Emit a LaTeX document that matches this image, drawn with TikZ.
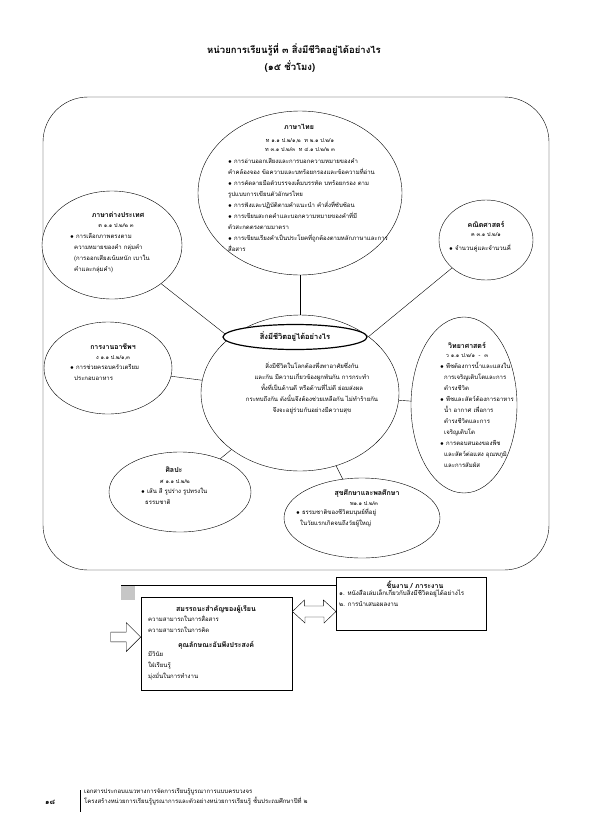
\documentclass[tikz,border=0pt]{standalone}
\usepackage{fontspec}
\newfontfamily\thai[Script=Thai]{Loma}
\usetikzlibrary{shapes.geometric,shapes.arrows,positioning}
\tikzset{
  bubble/.style={draw, ellipse, fill=white, inner sep=0pt},
  subjhead/.style={font=\thai\bfseries\fontsize{7}{9}\selectfont},
  subjcode/.style={font=\thai\fontsize{5.5}{9}\selectfont},
  subjtext/.style={font=\thai\fontsize{6}{11}\selectfont, align=left, inner sep=0pt, anchor=north west},
  infobox/.style={draw, fill=white, inner sep=0pt},
}
\newcommand{\bul}{$\bullet$\ }
\begin{document}
\begin{tikzpicture}[x=1pt, y=-1pt]
  \useasboundingbox (0,0) rectangle (595,836);
  % title
  \node[font=\thai\bfseries\fontsize{9.5}{11}\selectfont] (title) at (294,50) {หน่วยการเรียนรู้ที่ ๓ สิ่งมีชีวิตอยู่ได้อย่างไร};
  \node[font=\thai\bfseries\fontsize{9.5}{11}\selectfont] (hours) at (290,67) {(๑๕ ชั่วโมง)};

  % frame
  \draw[rounded corners=45pt] (43,97) rectangle (549,570);

  % bubbles
  \node[bubble, minimum width=204, minimum height=164] (thai) at (300,193) {};
  \node[bubble, minimum width=140, minimum height=108] (foreign) at (112,245) {};
  \node[bubble, minimum width=94, minimum height=80] (math) at (486,240) {};
  \node[bubble, minimum width=128, minimum height=92] (career) at (108,368) {};
  \node[bubble, minimum width=198, minimum height=156] (core) at (300,393) {};
  \node[bubble, minimum width=106, minimum height=176] (sci) at (464,405) {};
  \node[bubble, minimum width=142, minimum height=80] (art) at (180,492) {};
  \node[bubble, minimum width=156, minimum height=80] (health) at (362,518) {};

  % connectors
  \foreach \s in {thai, foreign, math, career, sci, art, health}
    \draw (core) -- (\s);

  % core
  \node[draw, ellipse, very thick, fill=white, minimum width=144, minimum height=25, font=\thai\bfseries\fontsize{7.5}{9}\selectfont] (corehead) at (295,337) {สิ่งมีชีวิตอยู่ได้อย่างไร};
  \node[subjtext, align=center, anchor=north] (coretext) at (312,362) {สิ่งมีชีวิตในโลกต้องพึ่งพาอาศัยซึ่งกัน\\และกัน มีความเกี่ยวข้องผูกพันกัน การกระทำ\\ทั้งที่เป็นด้านดี หรือด้านที่ไม่ดี ย่อมส่งผล\\กระทบถึงกัน ดังนั้นจึงต้องช่วยเหลือกัน ไม่ทำร้ายกัน\\จึงจะอยู่ร่วมกันอย่างมีความสุข};

  % Thai
  \node[subjhead] (thaihead) at (299,127) {ภาษาไทย};
  \node[subjcode, align=center] (thaicode) at (300,145) {ท ๑.๑ ป.๒/๑,๒ \ ท ๒.๑ ป.๒/๑\\ท ๓.๑ ป.๒/๓ \ ท ๔.๑ ป.๒/๒ ๓};
  \node[subjtext] (thaitext) at (228,158) {\bul การอ่านออกเสียงและการบอกความหมายของคำ\\คำคล้องจอง ข้อความและบทร้อยกรองและข้อความที่อ่าน\\\bul การคัดลายมือตัวบรรจงเต็มบรรทัด บทร้อยกรอง ตาม\\รูปแบบการเขียนตัวอักษรไทย\\\bul การฟังและปฏิบัติตามคำแนะนำ คำสั่งที่ซับซ้อน\\\bul การเขียนสะกดคำและบอกความหมายของคำที่มี\\ตัวสะกดตรงตามมาตรา\\\bul การเขียนเรียงคำเป็นประโยคที่ถูกต้องตามหลักภาษาและการ\\สื่อสาร};

  % foreign
  \node[subjhead] (forhead) at (118,215) {ภาษาต่างประเทศ};
  \node[subjcode] (forcode) at (116,226) {ต ๑.๑ ป.๒/๒ ๓};
  \node[subjtext] (fortext) at (70,233) {\bul การเลือกภาพตรงตาม\\\ \ ความหมายของคำ กลุ่มคำ\\\ \ (การออกเสียงเน้นหนัก เบาใน\\\ \ คำและกลุ่มคำ)};

  % math
  \node[subjhead] (mathhead) at (486,224) {คณิตศาสตร์};
  \node[subjcode] (mathcode) at (486,235) {ค ๓.๑ ป.๒/๑};
  \node[subjtext, anchor=west] (mathtext) at (449,248) {\bul จำนวนคู่และจำนวนคี่};

  % career
  \node[subjhead] (carhead) at (113,347) {การงานอาชีพฯ};
  \node[subjcode] (carcode) at (113,358) {ง ๑.๑ ป.๒/๑,๓};
  \node[subjtext] (cartext) at (70,364) {\bul การช่วยครอบครัวเตรียม\\\ \ ประกอบอาหาร};

  % science
  \node[subjhead] (scihead) at (467,345) {วิทยาศาสตร์};
  \node[subjcode] (scicode) at (467,356) {ว ๑.๑ ป.๒/๑ \ - \ ๓};
  \node[subjtext] (scitext) at (440,362) {\bul พืชต้องการน้ำและแสงใน\\\ \ การเจริญเติบโตและการ\\\ \ ดำรงชีวิต\\\bul พืชและสัตว์ต้องการอาหาร\\\ \ น้ำ อากาศ เพื่อการ\\\ \ ดำรงชีวิตและการ\\\ \ เจริญเติบโต\\\bul การตอบสนองของพืช\\\ \ และสัตว์ต่อแสง อุณหภูมิ\\\ \ และการสัมผัส};

  % art
  \node[subjhead] (arthead) at (174,470) {ศิลปะ};
  \node[subjcode] (artcode) at (175,482) {ศ ๑.๑ ป.๒/๒};
  \node[subjtext] (arttext) at (141,488) {\bul เส้น สี รูปร่าง รูปทรงใน\\\ \ ธรรมชาติ};

  % health
  \node[subjhead] (healthhead) at (367,494) {สุขศึกษาและพลศึกษา};
  \node[subjcode] (healthcode) at (364,504) {พ๑.๑ ป.๒/๓};
  \node[subjtext] (healthtext) at (296,508) {\bul ธรรมชาติของชีวิตมนุษย์ที่อยู่\\\ \ ในวัยแรกเกิดจนถึงวัยผู้ใหญ่};

  % bottom boxes
  \node[fill=gray!45, minimum width=14, minimum height=15, inner sep=0pt, anchor=north west] (stub) at (121,585) {};
  \node[infobox, minimum width=150, minimum height=53, anchor=north west] (workbox) at (336,577) {};
  \draw (stub.north west) -- (workbox.west |- stub.north);
  \node[infobox, minimum width=151, minimum height=93, anchor=north west] (compbox) at (141,597) {};
  \node[subjhead] (comphead) at (216,609) {สมรรถนะสำคัญของผู้เรียน};
  \node[subjtext] (comptext) at (148,615) {ความสามารถในการสื่อสาร\\ความสามารถในการคิด};
  \node[subjhead] (attrhead) at (216,645) {คุณลักษณะอันพึงประสงค์};
  \node[subjtext] (attrtext) at (148,651) {มีวินัย\\ใฝ่เรียนรู้\\มุ่งมั่นในการทำงาน};

  \node[subjhead] (workhead) at (415,585) {ชิ้นงาน / ภาระงาน};
  \node[subjtext, font=\thai\fontsize{6.2}{11}\selectfont] (worktext) at (339,589) {๑. หนังสือเล่มเล็กเกี่ยวกับสิ่งมีชีวิตอยู่ได้อย่างไร\\๒. การนำเสนอผลงาน};

  % arrows
  \draw[fill=white] (compbox.east |- 0,611.5) -- ++(12,-11.5) -- ++(0,6) -- ++(19,0) -- ++(0,-6)
    -- (workbox.west |- 0,611.5) -- ++(-12,11.5) -- ++(0,-6) -- ++(-19,0) -- ++(0,6) -- cycle;
  \node[draw, single arrow, fill=white, minimum height=30, minimum width=29, single arrow head extend=7pt, anchor=tip] (inarrow) at (compbox.west |- 0,637) {};

  % footer
  \draw (80,790) -- (80,812);
  \node[font=\thai\bfseries\fontsize{7}{9}\selectfont] (pagenum) at (50,802) {๑๘};
  \node[subjtext, font=\thai\fontsize{6}{10}\selectfont] (foottext) at (84,788) {เอกสารประกอบแนวทางการจัดการเรียนรู้บูรณาการแบบครบวงจร\\โครงสร้างหน่วยการเรียนรู้บูรณาการและตัวอย่างหน่วยการเรียนรู้ ชั้นประถมศึกษาปีที่ ๒};
\end{tikzpicture}
\end{document}
